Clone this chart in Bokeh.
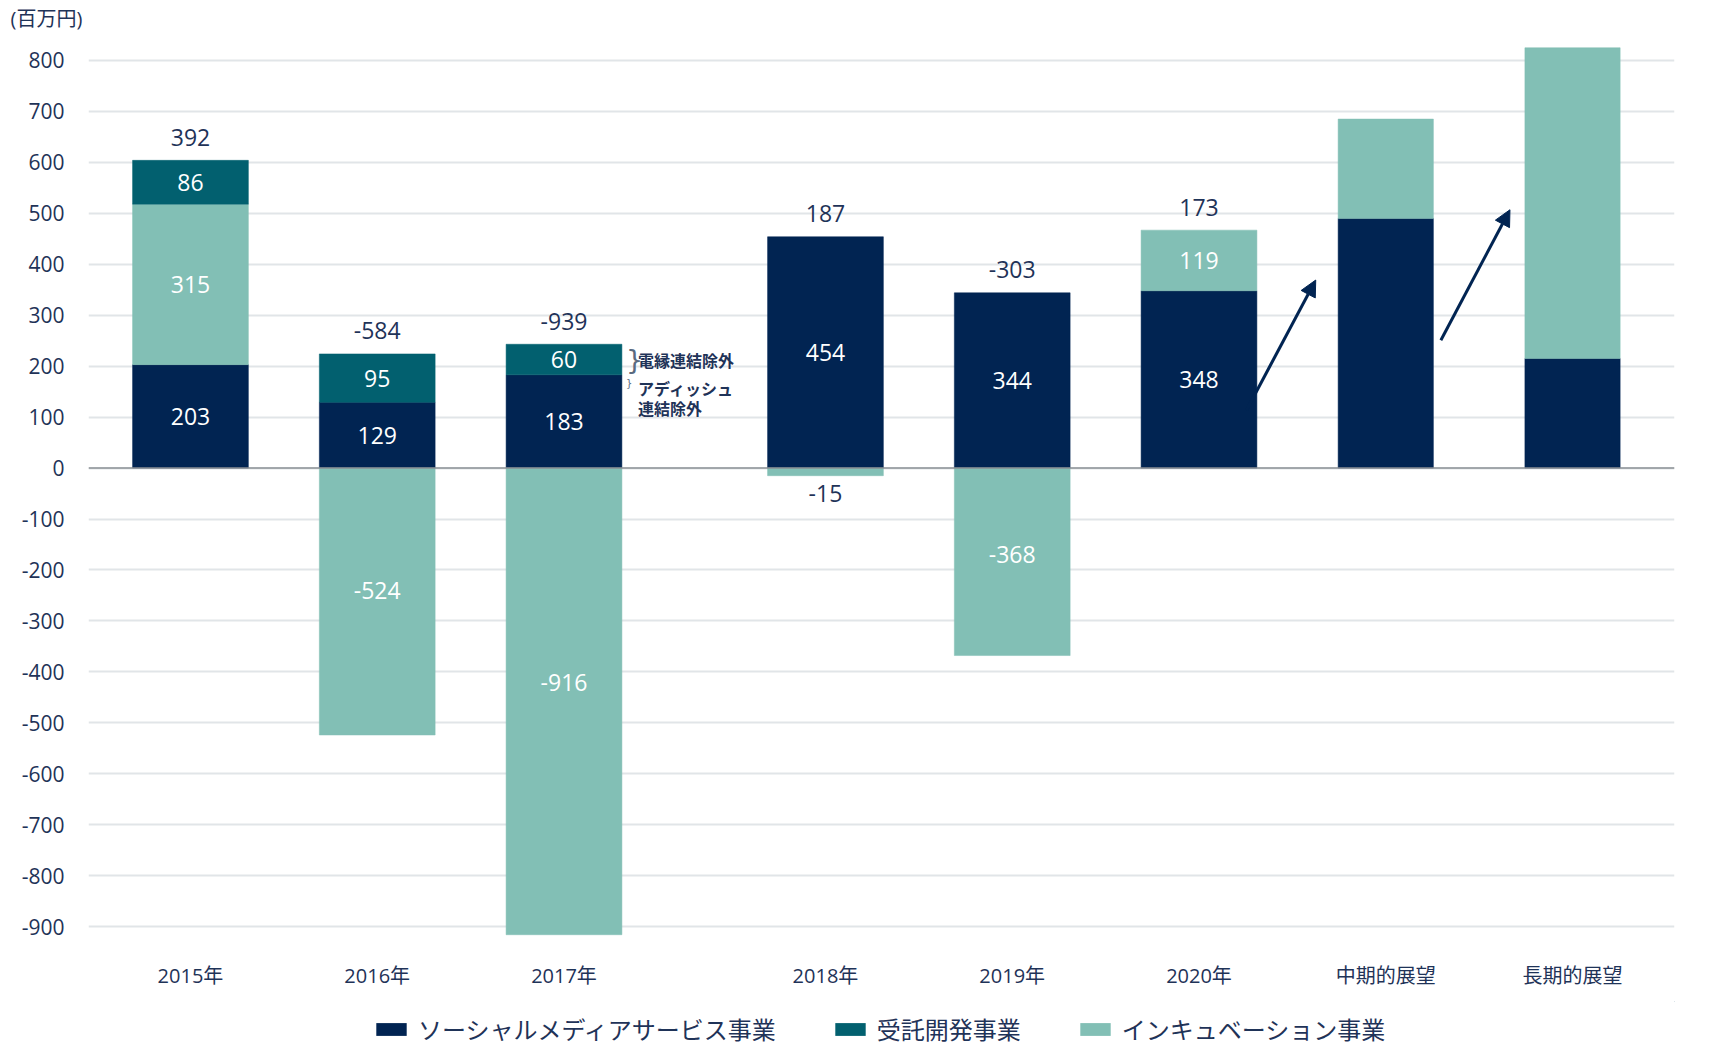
import numpy as np
from bokeh.plotting import figure
from bokeh.layouts import column
from bokeh.models import (FactorRange, Range1d, FixedTicker, ColumnDataSource, Span,
                          Legend, LegendItem, Arrow, NormalHead)
from bokeh.transform import dodge
from bokeh.core.properties import value
from bokeh.embed import file_html
from bokeh.resources import INLINE

# ---------------- data ----------------
categories = ["2015年", "2016年", "2017年", "2018年", "2019年", "2020年", "中期的展望", "長期的展望"]
groups = [" ", " ", " ", "  ", "  ", "  ", "  ", "  "]
social = [203, 129, 183, 454, 344, 348, 490, 215]          # ソーシャルメディアサービス事業
contract = [86, 95, 60, 0, 0, 0, 0, 0]                     # 受託開発事業
incubation = [315, -524, -916, -15, -368, 119, 195, 610]   # インキュベーション事業
totals = [392, -584, -939, 187, -303, 173, None, None]
labelled = [True, True, True, True, True, True, False, False]
series_names = ["ソーシャルメディアサービス事業", "受託開発事業", "インキュベーション事業"]
y_ticks = list(range(-900, 801, 100))
unit_label = "(百万円)"
note_texts = ["電縁連結除外", "アディッシュ", "連結除外"]
note_category = "2017年"
arrow_from = ["2020年", "中期的展望"]
arrow_y_start = [114, 251]
arrow_y_end = [369, 507]

# ---------------- style ----------------
NAVY = "#012452"
TEAL = "#02606f"
LIGHT = "#82bfb5"
TXT = "#1f3358"
GRID = "#e1e5e8"
FONT = "'Open Sans', 'Noto Sans CJK JP'"
bar_w = [0.62] * 6 + [0.51] * 2
arrow_dx = [(0.255, 0.625), (0.295, 0.665)]
TOTAL_W = 1714

x = list(zip(groups, categories))
s = np.array(social, dtype=float)
c = np.array(contract, dtype=float)
inc = np.array(incubation, dtype=float)
inc_pos = np.where(inc > 0, inc, 0)

p = figure(frame_width=1586, frame_height=915, output_backend="svg", toolbar_location=None,
           x_range=FactorRange(*x, group_padding=0.4, range_padding=0.046,
                               range_padding_units="absolute"),
           y_range=Range1d(-945, 851),
           min_border_left=88, min_border_right=40, min_border_top=0, min_border_bottom=52)
p.outline_line_color = None
p.background_fill_color = "white"

p.title.text = unit_label
p.title.align = "left"
p.title.offset = -78
p.title.text_font = FONT
p.title.text_font_size = "20px"
p.title.text_font_style = "normal"
p.title.text_color = TXT
p.title.standoff = 5

# grid / axes
p.xgrid.grid_line_color = None
p.ygrid.ticker = FixedTicker(ticks=y_ticks)
p.ygrid.grid_line_color = GRID
p.ygrid.grid_line_width = 2
p.yaxis.ticker = FixedTicker(ticks=y_ticks)
p.yaxis.major_label_overrides = {t: str(t) for t in y_ticks}
p.yaxis.axis_line_color = None
p.yaxis.major_tick_line_color = None
p.yaxis.minor_tick_line_color = None
p.yaxis.major_label_standoff = 18
p.yaxis.major_label_text_font = FONT
p.yaxis.major_label_text_font_size = "21px"
p.yaxis.major_label_text_color = TXT
p.xaxis.axis_line_color = None
p.xaxis.major_tick_line_color = None
p.xaxis.minor_tick_line_color = None
p.xaxis.major_label_standoff = 6
p.xaxis.major_label_text_font = FONT
p.xaxis.major_label_text_font_size = "20px"
p.xaxis.major_label_text_color = TXT
p.xaxis.group_text_font_size = "1px"
p.xaxis.group_text_color = None
p.xaxis.separator_line_color = None

# ---------------- bars ----------------
def seg_source(bottom, top, mask):
    idx = [i for i in range(len(x)) if mask[i]]
    return ColumnDataSource(dict(x=[x[i] for i in idx], bottom=[bottom[i] for i in idx],
                                 top=[top[i] for i in idx], w=[bar_w[i] for i in idx]))

soc_src = seg_source(np.zeros_like(s), s, s != 0)
inc_bottom = np.where(inc > 0, s, 0)
inc_top = np.where(inc > 0, s + inc, inc)
inc_src = seg_source(inc_bottom, inc_top, inc != 0)
con_bottom = s + inc_pos
con_src = seg_source(con_bottom, con_bottom + c, c != 0)

p.vbar(x="x", bottom="bottom", top="top", width="w", source=soc_src,
       fill_color=NAVY, line_color=NAVY, line_width=0.5)
p.vbar(x="x", bottom="bottom", top="top", width="w", source=inc_src,
       fill_color=LIGHT, line_color=LIGHT, line_width=0.5)
p.vbar(x="x", bottom="bottom", top="top", width="w", source=con_src,
       fill_color=TEAL, line_color=TEAL, line_width=0.5)

p.add_layout(Span(location=0, dimension="width", line_color="#8a8f95", line_width=1.5))

# ---------------- segment labels ----------------
lx, ly, lt, lc, lb, lo = [], [], [], [], [], []
for i in range(len(x)):
    if not labelled[i]:
        continue
    for v, b, t in ((s[i], 0, s[i]), (c[i], con_bottom[i], con_bottom[i] + c[i]),
                    (inc[i], inc_bottom[i], inc_top[i])):
        if v == 0:
            continue
        if abs(v) < 50:
            lx.append(x[i]); ly.append(min(b, t)); lt.append(str(int(v)))
            lc.append(TXT); lb.append("top"); lo.append(9)
        elif v < 0:
            lx.append(x[i]); ly.append(v * 0.46); lt.append(str(int(v)))
            lc.append("#ffffff"); lb.append("middle"); lo.append(0)
        else:
            lx.append(x[i]); ly.append((b + t) / 2); lt.append(str(int(v)))
            lc.append("#ffffff"); lb.append("middle"); lo.append(0)
lab_src = ColumnDataSource(dict(x=lx, y=ly, t=lt, c=lc, b=lb, o=lo))
p.text(x="x", y="y", text="t", text_color="c", text_baseline="b", y_offset="o",
       text_align="center", text_font=value(FONT), text_font_size="23px", source=lab_src)

# totals above the bars
tx, ty, tt = [], [], []
for i in range(len(x)):
    if totals[i] is None:
        continue
    tx.append(x[i]); ty.append(s[i] + inc_pos[i] + c[i]); tt.append(str(totals[i]))
tot_src = ColumnDataSource(dict(x=tx, y=ty, t=tt))
p.text(x="x", y="y", text="t", text_color=TXT, text_baseline="middle", y_offset=-23,
       text_align="center", text_font=value(FONT), text_font_size="23px", source=tot_src)

# notes next to 2017
k = categories.index(note_category)
note_src = ColumnDataSource(dict(x=[x[k]] * 3, y=[s[k] + c[k] / 2, s[k], s[k]], t=note_texts,
                                 o=[0, 13, 33]))
p.text(x="x", y="y", text="t", text_baseline="middle", y_offset="o", x_offset=74,
       text_align="left", text_color=TXT, text_font=value("Noto Sans CJK JP"),
       text_font_style="bold", text_font_size="16px", source=note_src)
brace_src = ColumnDataSource(dict(x=[x[k], x[k]], y=[s[k] + c[k] / 2, s[k]],
                                  t=["}", "}"], fs=["27px", "10px"], o=[0, 9]))
p.text(x="x", y="y", text="t", text_baseline="middle", y_offset="o", x_offset=62,
       text_align="left", text_color="#5a6a80", text_font=value("DejaVu Sans"),
       text_font_size="fs", source=brace_src)

# arrows
for j, a in enumerate(arrow_from):
    ar_src = ColumnDataSource(dict(f=[x[categories.index(a)]],
                                   y0=[arrow_y_start[j]], y1=[arrow_y_end[j]]))
    p.add_layout(Arrow(end=NormalHead(size=16, fill_color=NAVY, line_color=NAVY),
                       x_start=dodge("f", arrow_dx[j][0], range=p.x_range), y_start="y0",
                       x_end=dodge("f", arrow_dx[j][1], range=p.x_range), y_end="y1",
                       line_color=NAVY, line_width=3, source=ar_src))

# ---------------- legend (separate strip below the chart) ----------------
lg = figure(width=TOTAL_W, height=48, output_backend="svg", toolbar_location=None,
            x_range=Range1d(0, 1), y_range=Range1d(0, 1),
            x_axis_location=None, y_axis_location=None,
            min_border_left=0, min_border_right=0, min_border_top=0, min_border_bottom=0)
lg.outline_line_color = None
lg.grid.visible = False
# placeholder glyphs (outside the visible range) that only provide the legend swatches
hidden = dict(x=[5], bottom=[5], top=[6])
g_soc = lg.vbar(x="x", bottom="bottom", top="top", width=0.1,
                source=ColumnDataSource(hidden), fill_color=NAVY, line_color=None)
g_con = lg.vbar(x="x", bottom="bottom", top="top", width=0.1,
                source=ColumnDataSource(hidden), fill_color=TEAL, line_color=None)
g_inc = lg.vbar(x="x", bottom="bottom", top="top", width=0.1,
                source=ColumnDataSource(hidden), fill_color=LIGHT, line_color=None)
legend = Legend(items=[LegendItem(label=series_names[0], renderers=[g_soc]),
                       LegendItem(label=series_names[1], renderers=[g_con]),
                       LegendItem(label=series_names[2], renderers=[g_inc])],
                orientation="horizontal", location=(284, 3),
                glyph_width=38, glyph_height=16, label_standoff=8, spacing=55,
                label_text_font=FONT, label_text_font_size="24px", label_text_color=TXT,
                border_line_color=None, background_fill_alpha=0, padding=0, margin=0)
lg.add_layout(legend, "center")

page = column(p, lg, spacing=0)
open("out.html", "w").write(file_html(page, INLINE))
